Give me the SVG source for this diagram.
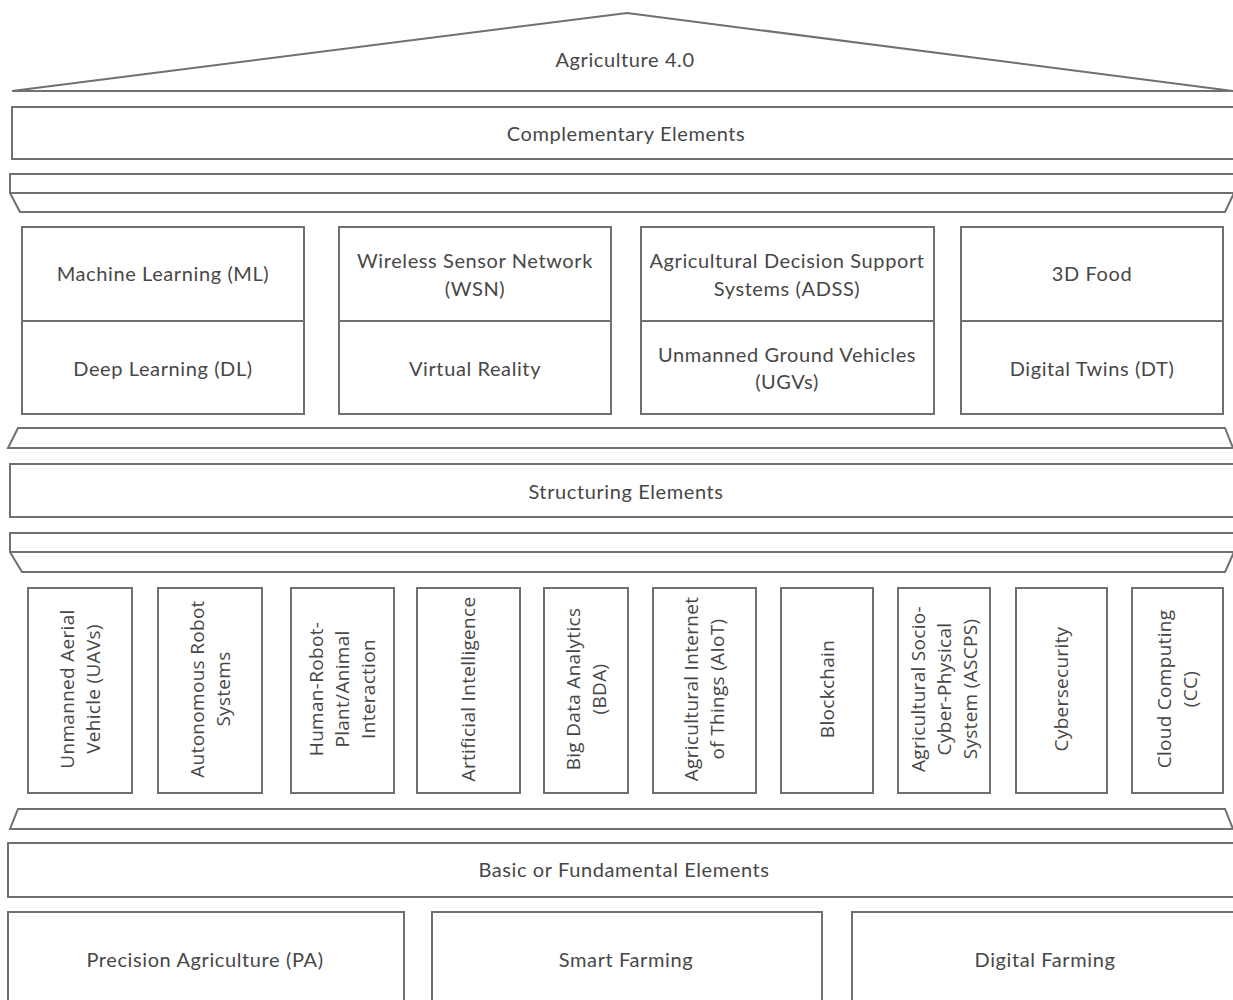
<svg xmlns="http://www.w3.org/2000/svg" width="1233" height="1000" viewBox="0 0 1233 1000">
<style>
.s{fill:#fff;stroke:#707070;stroke-width:2}
.l{fill:none;stroke:#707070;stroke-width:2}
.t{font-family:Lato,"Open Sans","Liberation Sans",sans-serif;font-size:20px;letter-spacing:0.6px;fill:#474747;text-anchor:middle;dominant-baseline:central}
.v{font-family:"Open Sans","Liberation Sans",sans-serif;font-size:19px;letter-spacing:0.3px;fill:#474747;text-anchor:middle;dominant-baseline:central}
</style>
<rect width="1233" height="1000" fill="#fff"/>
<g id="roof">
<polygon class="s" points="12,91 627,13 1233,91"/>
<text class="t" x="625" y="59">Agriculture 4.0</text>
</g>
<g id="complementary">
<rect class="s" x="12" y="107" width="1222" height="52"/>
<text class="t" x="626" y="133">Complementary Elements</text>
</g>
<g id="band1">
<path class="s" d="M10,174 H1234 V193 L1225,212 H20 L10,193 Z"/>
<path class="l" d="M10,193 H1234"/>
</g>
<g id="ml"><rect class="s" x="22" y="227" width="282" height="94"/><text class="t" x="163" y="273">Machine Learning (ML)</text></g>
<g id="dl"><rect class="s" x="22" y="321" width="282" height="93"/><text class="t" x="163" y="368">Deep Learning (DL)</text></g>
<g id="wsn"><rect class="s" x="339" y="227" width="272" height="94"/><text class="t" x="475" y="260">Wireless Sensor Network</text><text class="t" x="475" y="288">(WSN)</text></g>
<g id="vr"><rect class="s" x="339" y="321" width="272" height="93"/><text class="t" x="475" y="368">Virtual Reality</text></g>
<g id="adss"><rect class="s" x="641" y="227" width="293" height="94"/><text class="t" x="787" y="260">Agricultural Decision Support</text><text class="t" x="787" y="288">Systems (ADSS)</text></g>
<g id="ugv"><rect class="s" x="641" y="321" width="293" height="93"/><text class="t" x="787" y="354">Unmanned Ground Vehicles</text><text class="t" x="787" y="381">(UGVs)</text></g>
<g id="food"><rect class="s" x="961" y="227" width="262" height="94"/><text class="t" x="1092" y="273">3D Food</text></g>
<g id="dt"><rect class="s" x="961" y="321" width="262" height="93"/><text class="t" x="1092" y="368">Digital Twins (DT)</text></g>
<g id="band2">
<path class="s" d="M18,428 H1225 L1233,448 H8 Z"/>
</g>
<g id="structuring">
<rect class="s" x="10" y="464" width="1224" height="53"/>
<text class="t" x="626" y="491">Structuring Elements</text>
</g>
<g id="band3">
<path class="s" d="M10,533 H1234 V552 L1225,572 H22 L10,552 Z"/>
<path class="l" d="M10,552 H1234"/>
</g>
<g id="uav"><rect class="s" x="28" y="588" width="104" height="205"/>
<text class="v" transform="translate(80,689) rotate(-90)"><tspan x="0" y="-13">Unmanned Aerial</tspan><tspan x="0" y="13">Vehicle (UAVs)</tspan></text></g>
<g id="ars"><rect class="s" x="158" y="588" width="104" height="205"/>
<text class="v" transform="translate(210,689) rotate(-90)"><tspan x="0" y="-13">Autonomous Robot</tspan><tspan x="0" y="13">Systems</tspan></text></g>
<g id="hrpai"><rect class="s" x="291" y="588" width="103" height="205"/>
<text class="v" transform="translate(342,689) rotate(-90)"><tspan x="0" y="-26">Human-Robot-</tspan><tspan x="0" y="0">Plant/Animal</tspan><tspan x="0" y="26">Interaction</tspan></text></g>
<g id="ai"><rect class="s" x="417" y="588" width="103" height="205"/>
<text class="v" transform="translate(468,689) rotate(-90)"><tspan x="0" y="0">Artificial Intelligence</tspan></text></g>
<g id="bda"><rect class="s" x="544" y="588" width="84" height="205"/>
<text class="v" transform="translate(586,689) rotate(-90)"><tspan x="0" y="-13">Big Data Analytics</tspan><tspan x="0" y="13">(BDA)</tspan></text></g>
<g id="aiot"><rect class="s" x="653" y="588" width="103" height="205"/>
<text class="v" transform="translate(704,689) rotate(-90)"><tspan x="0" y="-13">Agricultural Internet</tspan><tspan x="0" y="13">of Things (AIoT)</tspan></text></g>
<g id="blockchain"><rect class="s" x="781" y="588" width="92" height="205"/>
<text class="v" transform="translate(827,689) rotate(-90)"><tspan x="0" y="0">Blockchain</tspan></text></g>
<g id="ascps"><rect class="s" x="898" y="588" width="92" height="205"/>
<text class="v" transform="translate(944,689) rotate(-90)"><tspan x="0" y="-26">Agricultural Socio-</tspan><tspan x="0" y="0">Cyber-Physical</tspan><tspan x="0" y="26">System (ASCPS)</tspan></text></g>
<g id="cyber"><rect class="s" x="1016" y="588" width="91" height="205"/>
<text class="v" transform="translate(1061,689) rotate(-90)"><tspan x="0" y="0">Cybersecurity</tspan></text></g>
<g id="cc"><rect class="s" x="1132" y="588" width="91" height="205"/>
<text class="v" transform="translate(1177,689) rotate(-90)"><tspan x="0" y="-13">Cloud Computing</tspan><tspan x="0" y="13">(CC)</tspan></text></g>
<g id="band4">
<path class="s" d="M18,809 H1225 L1233,829 H10 Z"/>
</g>
<g id="basic">
<rect class="s" x="8" y="843" width="1226" height="54"/>
<text class="t" x="624" y="869">Basic or Fundamental Elements</text>
</g>
<g id="pa"><rect class="s" x="8" y="912" width="396" height="100"/><text class="t" x="205" y="959">Precision Agriculture (PA)</text></g>
<g id="sf"><rect class="s" x="432" y="912" width="390" height="100"/><text class="t" x="626" y="959">Smart Farming</text></g>
<g id="df"><rect class="s" x="852" y="912" width="382" height="100"/><text class="t" x="1045" y="959">Digital Farming</text></g>
</svg>
